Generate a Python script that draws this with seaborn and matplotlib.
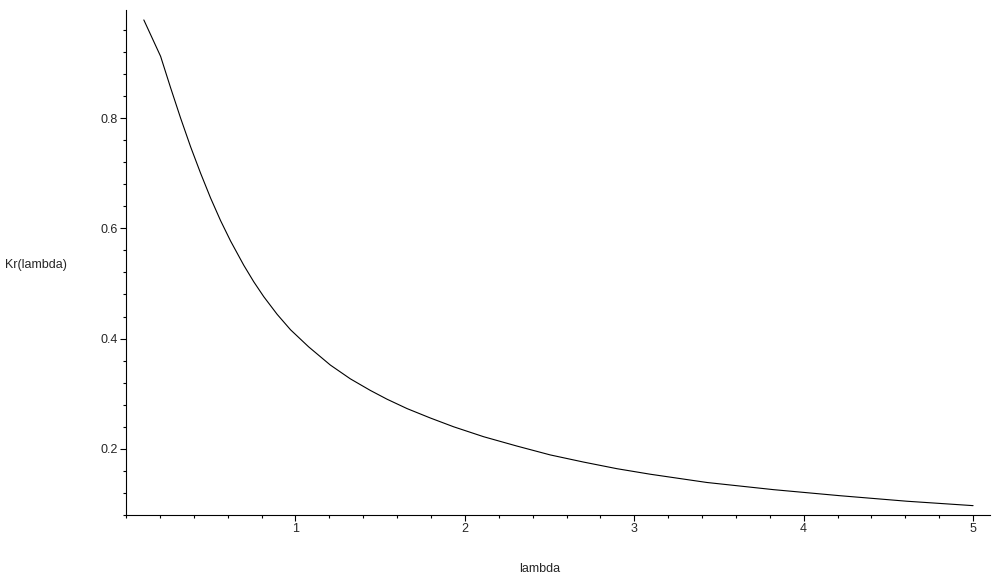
import matplotlib
matplotlib.use("Agg")
import matplotlib.pyplot as plt
import numpy as np
import pandas as pd
import seaborn as sns
from matplotlib.ticker import MultipleLocator

# values
lam = [0.105, 0.204, 0.263, 0.322, 0.381, 0.440, 0.499, 0.558, 0.617, 0.695,
       0.754, 0.813, 0.892, 0.971, 1.078, 1.206, 1.324, 1.442, 1.541, 1.659,
       1.796, 1.934, 2.111, 2.308, 2.504, 2.701, 2.898, 3.094, 3.429, 3.822,
       4.215, 4.609, 5.0]
kr = [0.978, 0.912, 0.855, 0.800, 0.748, 0.700, 0.655, 0.614, 0.577, 0.533,
      0.503, 0.476, 0.444, 0.416, 0.385, 0.352, 0.327, 0.306, 0.290, 0.273,
      0.256, 0.240, 0.222, 0.205, 0.189, 0.176, 0.164, 0.154, 0.139, 0.126,
      0.115, 0.105, 0.097]
x_ticks = [1, 2, 3, 4, 5]
y_ticks = [0.2, 0.4, 0.6, 0.8]

df = pd.DataFrame({"lambda": lam, "Kr(lambda)": kr})

sns.set_style("ticks")
plt.rcParams["font.family"] = ["Liberation Sans", "DejaVu Sans"]

fig = plt.figure(figsize=(9.94, 5.82), dpi=100)
ax = fig.add_axes([0.1268, 0.1151, 0.8692, 0.8677])

sns.lineplot(data=df, x="lambda", y="Kr(lambda)", ax=ax, color="black", lw=0.8)

ax.set_xlim(0, 5.1)
ax.set_ylim(0.08, 0.996)
ax.set_xticks(x_ticks)
ax.set_yticks(y_ticks)
ax.set_xticklabels([str(t) for t in x_ticks])
ax.set_yticklabels([f"{t:.1f}" for t in y_ticks])
ax.xaxis.set_minor_locator(MultipleLocator(0.2))
ax.yaxis.set_minor_locator(MultipleLocator(0.04))
ax.tick_params(which="major", length=4, width=0.8, labelsize=9, pad=2, color="black")
ax.tick_params(which="minor", length=2.5, width=0.8, color="black")

for side in ["top", "right"]:
    ax.spines[side].set_visible(False)
for side in ["left", "bottom"]:
    ax.spines[side].set_linewidth(0.8)
    ax.spines[side].set_color("black")

ax.set_xlabel("lambda", fontsize=9)
ax.set_ylabel("Kr(lambda)", fontsize=9, rotation=0, ha="left", va="center")
ax.xaxis.set_label_coords(0.479, -0.095)
ax.yaxis.set_label_coords(-0.14, 0.495)

fig.savefig("out.png", dpi=100)
